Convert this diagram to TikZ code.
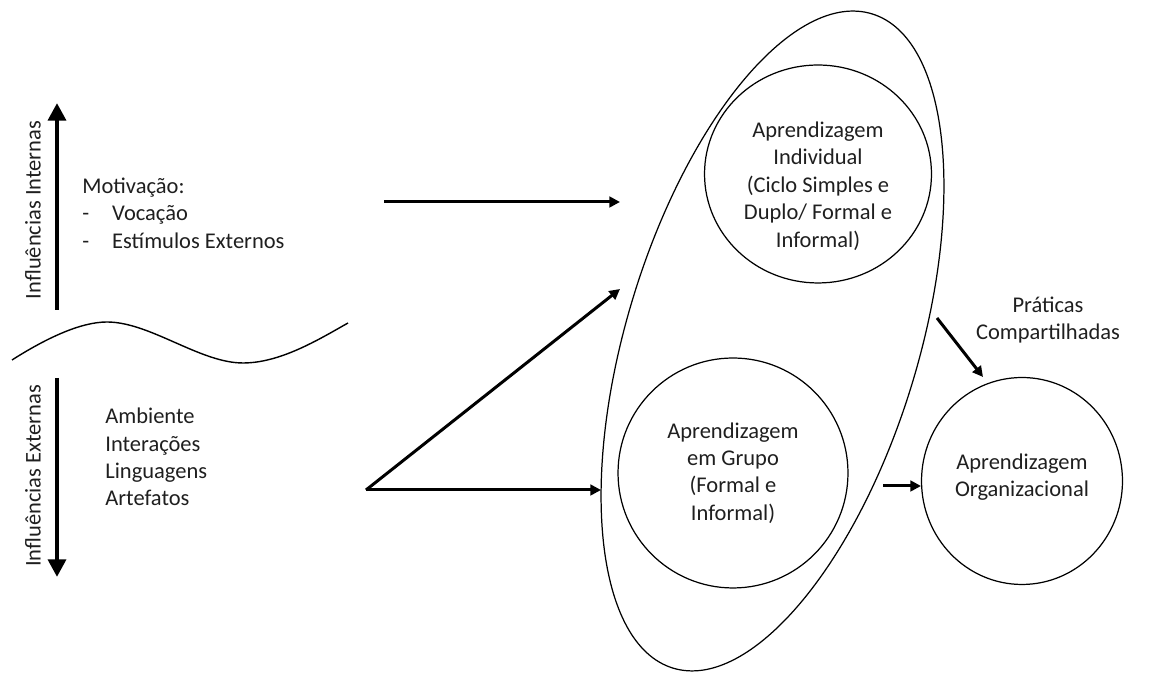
\documentclass[tikz,border=0pt]{standalone}
\usepackage{fontspec}
\setmainfont{Carlito}
\usetikzlibrary{arrows.meta,shapes.geometric}
\begin{document}
\begin{tikzpicture}[x=0.02cm,y=0.02cm,
  every node/.style={font=\fontsize{12.8}{15.6}\selectfont, text=black!88, inner sep=0pt},
  ring/.style={draw, ellipse, line width=0.7pt},
  flow/.style={line width=1.7pt, -{Triangle[length=6pt,width=6pt]}},
  axisarrow/.style={line width=2.6pt, -{Triangle[length=10pt,width=10pt]}},
  txt/.style={align=center}]
\useasboundingbox (0,0) rectangle (1150,675);

% influence axes
\coordinate (upS) at (57,365);
\coordinate (upE) at (57,572);
\coordinate (dnS) at (57,297);
\coordinate (dnE) at (57,98);
\draw[axisarrow] (upS) -- (upE);
\draw[axisarrow] (dnS) -- (dnE);
\node[rotate=90] (intlabel) at (33,465) {Influências Internas};
\node[rotate=90] (extlabel) at (33,199) {Influências Externas};

% separating wave
\draw[line width=0.8pt] (12,315) .. controls (45,336) and (80,353) .. (107,353)
  .. controls (150,353) and (200,312) .. (243,312)
  .. controls (280,312) and (318,335) .. (348,352);

% influence lists
\node[anchor=west, align=left] (motiv) at (82,462)
  {Motivação:\\\makebox[17pt][l]{-}Vocação\\\makebox[17pt][l]{-}Estímulos Externos};
\node[anchor=west, align=left] (amb) at (105,218)
  {Ambiente\\Interações\\Linguagens\\Artefatos};

% learning levels
\node[ring, minimum width=5.84cm, minimum height=13.68cm, rotate=-16.9] (group) at (772.5,334) {};
\node[ring, minimum width=4.54cm, minimum height=4.36cm] (indiv) at (818,501) {};
\node[ring, minimum width=4.6cm, minimum height=4.6cm] (grupo) at (733,202) {};
\node[ring, minimum width=4.02cm, minimum height=4.14cm] (org) at (1022,194) {};

\node[txt] (indivtxt) at (818,489) {Aprendizagem\\Individual\\(Ciclo Simples e\\Duplo/ Formal e\\Informal)};
\node[txt] (grupotxt) at (733,202) {Aprendizagem\\em Grupo\\(Formal e\\Informal)};
\node[txt] (orgtxt) at (1022,198) {Aprendizagem\\Organizacional};
\node[txt] (prat) at (1048,355) {Práticas\\Compartilhadas};

% flows
\coordinate (a1s) at (384,473);
\coordinate (a1e) at (620,473);
\coordinate (fork) at (366,185);
\coordinate (a2e) at (620,386);
\coordinate (a3e) at (601,185);
\coordinate (a4s) at (937,357);
\coordinate (a4e) at (983,298);
\coordinate (a5s) at (883,189);
\coordinate (a5e) at (921,189);
\draw[flow] (a1s) -- (a1e);
\draw[flow] (fork) -- (a2e);
\draw[flow] (fork) -- (a3e);
\draw[flow] (a4s) -- (a4e);
\draw[flow] (a5s) -- (a5e);
\end{tikzpicture}
\end{document}
